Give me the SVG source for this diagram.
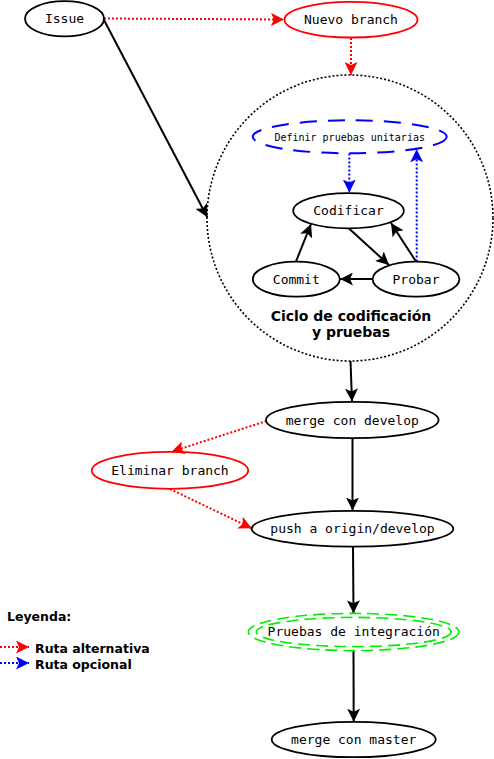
<svg xmlns="http://www.w3.org/2000/svg" width="494" height="759" viewBox="0 0 494 759">
<style>
.n{fill:none;stroke:#000;stroke-width:1.8}
.r{fill:none;stroke:#f00;stroke-width:1.8}
.t{font-family:"DejaVu Sans Mono","Liberation Mono",monospace;font-size:13px;fill:#000;text-anchor:middle}
.ts{font-size:10px}
.b{font-family:"DejaVu Sans","Liberation Sans",sans-serif;font-weight:bold;fill:#000}
.e{fill:none;stroke:#000;stroke-width:2;marker-end:url(#ak)}
.er{fill:none;stroke:#f00;stroke-width:2;stroke-dasharray:2,2;marker-end:url(#ar)}
.eb{fill:none;stroke:#00f;stroke-width:2;stroke-dasharray:2,2;marker-end:url(#ab)}
</style>
<defs>
<marker id="ak" viewBox="0 0 13 13" refX="13" refY="6.5" markerWidth="13" markerHeight="13" markerUnits="userSpaceOnUse" orient="auto"><path d="M0,0 L13,6.5 L0,13 L3,6.5 Z" fill="#000"/></marker>
<marker id="ar" viewBox="0 0 13 13" refX="13" refY="6.5" markerWidth="13" markerHeight="13" markerUnits="userSpaceOnUse" orient="auto"><path d="M0,0 L13,6.5 L0,13 L3,6.5 Z" fill="#f00"/></marker>
<marker id="ab" viewBox="0 0 13 13" refX="13" refY="6.5" markerWidth="13" markerHeight="13" markerUnits="userSpaceOnUse" orient="auto"><path d="M0,0 L13,6.5 L0,13 L3,6.5 Z" fill="#00f"/></marker>
</defs>
<rect width="494" height="759" fill="#fff"/>

<g id="cluster-ciclo">
<circle cx="350" cy="218" r="143" fill="none" stroke="#000" stroke-width="1.6" stroke-dasharray="2,2"/>
<text class="b" x="351" y="321" font-size="14" text-anchor="middle">Ciclo de codificación</text>
<text class="b" x="351" y="337" font-size="14" text-anchor="middle">y pruebas</text>
</g>

<g id="connectors">
<path class="er" d="M104,18.5 L284,19.5"/>
<path class="er" d="M351,38 L351,75"/>
<path class="e" d="M104,20 L207.3,217.3"/>
<path class="eb" d="M349.3,153.5 L349.3,192.5"/>
<path class="eb" d="M416.7,261.5 L416.7,149.3"/>
<path class="e" d="M349,228.5 L389,265"/>
<path class="e" d="M416,261.5 L391,223"/>
<path class="e" d="M372.5,279 L340,279"/>
<path class="e" d="M296,261.5 L311,224"/>
<path class="e" d="M350.5,361 L352,401.5"/>
<path class="er" d="M266.5,421 L171.5,451.7"/>
<path class="e" d="M352.5,438.5 L352.5,510.5"/>
<path class="er" d="M170,489 L251.7,528.3"/>
<path class="e" d="M353,547 L353.5,613.3"/>
<path class="e" d="M353.5,650.7 L353.7,721.7"/>
</g>

<g id="issue"><ellipse class="n" cx="64.5" cy="18.8" rx="39.5" ry="17.6"/><text class="t" x="64.5" y="23.3">Issue</text></g>
<g id="nuevo-branch"><ellipse class="r" cx="351" cy="19.7" rx="66.5" ry="17.8"/><text class="t" x="351" y="24.3">Nuevo branch</text></g>
<g id="definir-pruebas"><ellipse cx="349.7" cy="136.8" rx="97" ry="16.5" fill="none" stroke="#00f" stroke-width="2" stroke-dasharray="17,11"/><text class="t ts" x="349.7" y="140.8">Definir pruebas unitarias</text></g>
<g id="codificar"><ellipse class="n" cx="348.5" cy="210.8" rx="55.3" ry="17.6"/><text class="t" x="348.5" y="215.3">Codificar</text></g>
<g id="commit"><ellipse class="n" cx="296.3" cy="279.2" rx="43.5" ry="17.5"/><text class="t" x="296.3" y="283.7">Commit</text></g>
<g id="probar"><ellipse class="n" cx="416" cy="279.2" rx="43.4" ry="17.5"/><text class="t" x="416" y="283.7">Probar</text></g>
<g id="merge-develop"><ellipse class="n" cx="352.3" cy="420" rx="86.3" ry="18.2"/><text class="t" x="352.3" y="424.5">merge con develop</text></g>
<g id="eliminar-branch"><ellipse class="r" cx="170" cy="470.4" rx="78.2" ry="18.5"/><text class="t" x="170" y="474.9">Eliminar branch</text></g>
<g id="push-develop"><ellipse class="n" cx="352.5" cy="528.7" rx="100.8" ry="17.9"/><text class="t" x="352.5" y="533.2">push a origin/develop</text></g>
<g id="pruebas-integracion">
<ellipse cx="353.7" cy="632" rx="105.3" ry="18.6" fill="none" stroke="#0e0" stroke-width="1.6" stroke-dasharray="12,6"/>
<ellipse cx="353.7" cy="632" rx="97.5" ry="14.6" fill="none" stroke="#0e0" stroke-width="1.6" stroke-dasharray="12,6"/>
<text class="t" x="353.7" y="636.3">Pruebas de integración</text>
</g>
<g id="merge-master"><ellipse class="n" cx="353.7" cy="739.5" rx="82" ry="17.7"/><text class="t" x="353.7" y="744">merge con master</text></g>

<g id="legend">
<text class="b" x="7" y="621" font-size="12.5">Leyenda:</text>
<path class="er" d="M0,647 L29,647"/>
<path class="eb" d="M0,663 L29,663"/>
<text class="b" x="35" y="653" font-size="12.5">Ruta alternativa</text>
<text class="b" x="35" y="668.5" font-size="12.5">Ruta opcional</text>
</g>
</svg>
